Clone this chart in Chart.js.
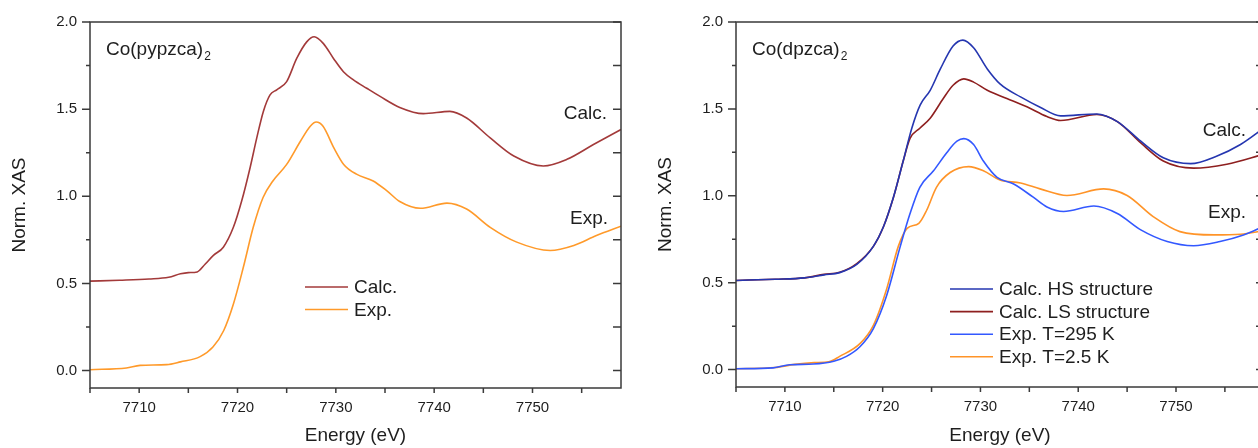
<!DOCTYPE html>
<html>
<head>
<meta charset="utf-8">
<script src="https://cdn.jsdelivr.net/npm/chart.js@4.4.1/dist/chart.umd.min.js"></script>
<style>
  html, body { margin:0; padding:0; background:#fff; width:1258px; height:448px; overflow:hidden; }
  #wrapL { position:absolute; left:0; top:0; width:640px; height:448px; }
  #wrapR { position:absolute; left:646px; top:0; width:640px; height:448px; }
</style>
</head>
<body>
<div id="wrapL"><canvas id="cL" width="640" height="448"></canvas></div>
<div id="wrapR"><canvas id="cR" width="640" height="448"></canvas></div>
<script>
// ---------- axis ticks ----------
const yMajor = [0, 0.5, 1.0, 1.5, 2.0];
const yMinor = [0.25, 0.75, 1.25, 1.75];
const xMajor = [7710, 7720, 7730, 7740, 7750];
const xMinor = [7705, 7715, 7725, 7735, 7745, 7755];

// ---------- left panel: Co(pypzca)2 ----------
const eLeftCalc = [7705, 7708, 7711, 7713, 7714.2, 7715, 7715.9, 7716.7, 7717.55, 7718.56, 7719.58, 7720.43, 7721.28, 7721.96, 7722.63, 7723.31, 7723.99, 7725.0, 7726.02, 7727.04, 7727.8, 7728.74, 7729.76, 7730.77, 7731.79, 7733.14, 7734.5, 7736.5, 7738.9, 7741.6, 7743.3, 7745.7, 7748.1, 7751.1, 7753.5, 7756.2, 7759];
const vLeftCalc = [0.513, 0.518, 0.525, 0.535, 0.555, 0.562, 0.566, 0.61, 0.661, 0.708, 0.822, 0.974, 1.164, 1.335, 1.487, 1.582, 1.611, 1.658, 1.791, 1.886, 1.915, 1.876, 1.791, 1.715, 1.668, 1.62, 1.573, 1.51, 1.474, 1.487, 1.449, 1.335, 1.231, 1.174, 1.212, 1.297, 1.383];
const eLeftExp = [7705, 7708.7, 7710.1, 7712.8, 7714.2, 7716.2, 7717.5, 7718.6, 7719.6, 7720.6, 7721.6, 7722.6, 7723.6, 7725.0, 7726.4, 7727.4, 7728.0, 7728.7, 7729.8, 7730.8, 7732.1, 7733.8, 7735.2, 7736.5, 7738.6, 7741.3, 7743.3, 7745.7, 7748.4, 7751.8, 7754.2, 7756.5, 7759];
const vLeftExp = [0.005, 0.015, 0.03, 0.034, 0.05, 0.08, 0.135, 0.23, 0.385, 0.594, 0.822, 0.993, 1.088, 1.183, 1.316, 1.402, 1.426, 1.402, 1.278, 1.183, 1.127, 1.088, 1.031, 0.97, 0.931, 0.961, 0.927, 0.822, 0.737, 0.689, 0.718, 0.775, 0.828];

// ---------- right panel: Co(dpzca)2 ----------
const eRightHS = [7705, 7709, 7712, 7714, 7715.6, 7717.35, 7719.05, 7720.08, 7721.1, 7722.1, 7722.98, 7723.83, 7724.86, 7725.9, 7727.2, 7728.2, 7729.3, 7730.7, 7732.0, 7734.1, 7736.1, 7738.2, 7741.9, 7744.0, 7746.4, 7748.7, 7751.5, 7754.2, 7756.6, 7759];
const vRightHS = [0.513, 0.52, 0.528, 0.545, 0.558, 0.605, 0.709, 0.822, 0.992, 1.2, 1.389, 1.522, 1.607, 1.73, 1.862, 1.896, 1.852, 1.73, 1.644, 1.569, 1.51, 1.46, 1.471, 1.427, 1.314, 1.219, 1.185, 1.229, 1.295, 1.39];
const eRightLS = [7705, 7709, 7712, 7714, 7715.6, 7717.35, 7719.05, 7720.08, 7721.1, 7722.1, 7722.8, 7723.8, 7724.86, 7726.2, 7727.2, 7728.3, 7729.3, 7730.7, 7732.7, 7734.75, 7736.8, 7738.2, 7741.9, 7744.0, 7746.4, 7748.7, 7751.8, 7755.2, 7759];
const vRightLS = [0.513, 0.52, 0.528, 0.548, 0.56, 0.61, 0.709, 0.822, 0.99, 1.2, 1.33, 1.389, 1.446, 1.56, 1.636, 1.673, 1.654, 1.607, 1.56, 1.512, 1.456, 1.433, 1.468, 1.427, 1.304, 1.2, 1.159, 1.182, 1.24];
const eRight295 = [7705, 7708.8, 7710.5, 7712.9, 7715, 7716.3, 7717.7, 7719.05, 7720.4, 7721.8, 7722.8, 7723.8, 7725.2, 7726.55, 7727.6, 7728.3, 7729.3, 7730.3, 7731.7, 7733.4, 7735.4, 7736.8, 7738.5, 7741.6, 7744, 7746.4, 7749.1, 7751.8, 7754.5, 7756.9, 7759];
const vRight295 = [0.005, 0.01, 0.028, 0.032, 0.048, 0.076, 0.133, 0.236, 0.425, 0.709, 0.898, 1.049, 1.144, 1.248, 1.314, 1.329, 1.295, 1.2, 1.106, 1.068, 0.992, 0.936, 0.91, 0.941, 0.898, 0.804, 0.737, 0.713, 0.737, 0.775, 0.825];
const eRight25 = [7705, 7709, 7711, 7713, 7714.5, 7715.6, 7717.7, 7719.05, 7720.4, 7721.6, 7722.5, 7723.7, 7724.5, 7725.5, 7726.9, 7728.8, 7730.3, 7732.0, 7734.1, 7736.1, 7738.85, 7742.6, 7745, 7747.7, 7750.4, 7753.9, 7756.6, 7759];
const vRight25 = [0.005, 0.012, 0.03, 0.04, 0.045, 0.076, 0.151, 0.255, 0.463, 0.709, 0.813, 0.842, 0.917, 1.049, 1.134, 1.168, 1.144, 1.091, 1.074, 1.04, 1.002, 1.04, 1.002, 0.879, 0.794, 0.775, 0.779, 0.80];

// ---------- labels ----------
const leftTitle = 'Co(pypzca)';
const rightTitle = 'Co(dpzca)';
const titleSub = '2';
const leftSeriesNames = ['Calc.', 'Exp.'];
const rightSeriesNames = ['Calc. HS structure', 'Calc. LS structure', 'Exp. T=295 K', 'Exp. T=2.5 K'];
const sideLabels = ['Calc.', 'Exp.'];
const xTitle = 'Energy (eV)';
const yTitle = 'Norm. XAS';

const FONT = "'Liberation Sans', Arial, Helvetica, sans-serif";
const TXT = '#1e1e1e';

function pts(e, v) { return e.map((x, i) => ({ x: x, y: v[i] })); }

const framePlugin = {
  id: 'frame',
  afterDatasetsDraw(chart, args, o) {
    const { ctx, chartArea: { left, right, top, bottom }, scales: { x, y } } = chart;
    ctx.save();
    ctx.strokeStyle = '#3a3a3a';
    ctx.lineWidth = 1.5;
    ctx.strokeRect(left, top, right - left, bottom - top);
    ctx.beginPath();
    yMajor.forEach(v => { const p = y.getPixelForValue(v); ctx.moveTo(left - 8, p); ctx.lineTo(left, p); ctx.moveTo(right, p); ctx.lineTo(right - 8, p); });
    yMinor.forEach(v => { const p = y.getPixelForValue(v); ctx.moveTo(left - 4, p); ctx.lineTo(left, p); ctx.moveTo(right, p); ctx.lineTo(right - 8, p); });
    xMajor.concat(xMinor).forEach(v => { const p = x.getPixelForValue(v); ctx.moveTo(p, bottom); ctx.lineTo(p, bottom + 5); });
    ctx.stroke();

    ctx.fillStyle = TXT;
    // panel title with subscript
    ctx.font = '19px ' + FONT;
    ctx.textAlign = 'left'; ctx.textBaseline = 'alphabetic';
    ctx.fillText(o.title, left + o.titleDx, top + o.titleDy);
    const w = ctx.measureText(o.title).width;
    ctx.font = '12px ' + FONT;
    ctx.fillText(titleSub, left + o.titleDx + w + 1, top + o.titleDy + 5);

    // side labels
    ctx.font = '19px ' + FONT;
    ctx.textAlign = 'right';
    ctx.fillText(sideLabels[0], right - o.calcDx, top + o.calcDy);
    ctx.fillText(sideLabels[1], right - o.expDx, top + o.expDy);

    // legend
    ctx.textAlign = 'left'; ctx.textBaseline = 'middle';
    chart.data.datasets.forEach((ds, i) => {
      const yy = top + o.legDy + i * o.legStep;
      ctx.strokeStyle = ds.borderColor; ctx.lineWidth = 1.6;
      ctx.beginPath(); ctx.moveTo(left + o.legX0, yy); ctx.lineTo(left + o.legX1, yy); ctx.stroke();
      ctx.fillText(ds.label, left + o.legTx, yy + 1);
    });
    ctx.restore();
  }
};

function makeOptions(pad, frameOpts) {
  return {
    responsive: false,
    animation: false,
    devicePixelRatio: 1,
    layout: { padding: pad },
    plugins: { legend: { display: false }, tooltip: { enabled: false }, frame: frameOpts },
    elements: { point: { radius: 0 }, line: { borderWidth: 1.6, tension: 0.4, cubicInterpolationMode: 'monotone' } },
    scales: {
      x: {
        type: 'linear', min: 7705, max: 7759,
        grid: { display: false, drawTicks: false }, border: { display: false },
        afterBuildTicks: s => { s.ticks = xMajor.map(v => ({ value: v })); },
        afterFit: s => { s.height = 448 - 388 - (pad.bottom || 0) + (pad.xAdj || 0); },
        ticks: { color: TXT, font: { family: FONT, size: 15 }, padding: 11, maxRotation: 0, callback: v => String(v) },
        title: { display: true, text: xTitle, color: TXT, font: { family: FONT, size: 19 }, padding: { top: 0, bottom: 1 } }
      },
      y: {
        type: 'linear', min: -0.1, max: 2.0,
        grid: { display: false, drawTicks: false }, border: { display: false },
        afterBuildTicks: s => { s.ticks = yMajor.map(v => ({ value: v })); },
        afterFit: s => { s.width = 90; },
        ticks: { color: TXT, font: { family: FONT, size: 15 }, padding: 13, callback: v => Number(v).toFixed(1) },
        title: { display: true, text: yTitle, color: TXT, font: { family: FONT, size: 19 }, padding: { top: 8, bottom: 0 } }
      }
    }
  };
}

new Chart(document.getElementById('cL'), {
  type: 'line',
  data: {
    datasets: [
      { label: leftSeriesNames[0], data: pts(eLeftCalc, vLeftCalc), borderColor: '#a33a3a', parsing: true },
      { label: leftSeriesNames[1], data: pts(eLeftExp, vLeftExp), borderColor: '#ff9a2a' }
    ]
  },
  options: makeOptions({ top: 20, right: 19, left: 0, bottom: 0 },
    { title: leftTitle, titleDx: 16, titleDy: 33, calcDx: 14, calcDy: 97, expDx: 13, expDy: 202,
      legX0: 215, legX1: 258, legTx: 264, legDy: 265, legStep: 22.5 }),
  plugins: [framePlugin]
});

new Chart(document.getElementById('cR'), {
  type: 'line',
  data: {
    datasets: [
      { label: rightSeriesNames[0], data: pts(eRightHS, vRightHS), borderColor: '#2536b0' },
      { label: rightSeriesNames[1], data: pts(eRightLS, vRightLS), borderColor: '#8e1f1f' },
      { label: rightSeriesNames[2], data: pts(eRight295, vRight295), borderColor: '#3358ff' },
      { label: rightSeriesNames[3], data: pts(eRight25, vRight25), borderColor: '#ff9428' }
    ]
  },
  options: makeOptions({ top: 19, right: 22, left: 0, bottom: 0, xAdj: 1 },
    { title: rightTitle, titleDx: 16, titleDy: 33, calcDx: 18, calcDy: 114, expDx: 18, expDy: 196,
      legX0: 214, legX1: 257, legTx: 263, legDy: 267, legStep: 22.6 }),
  plugins: [framePlugin]
});
</script>
</body>
</html>
